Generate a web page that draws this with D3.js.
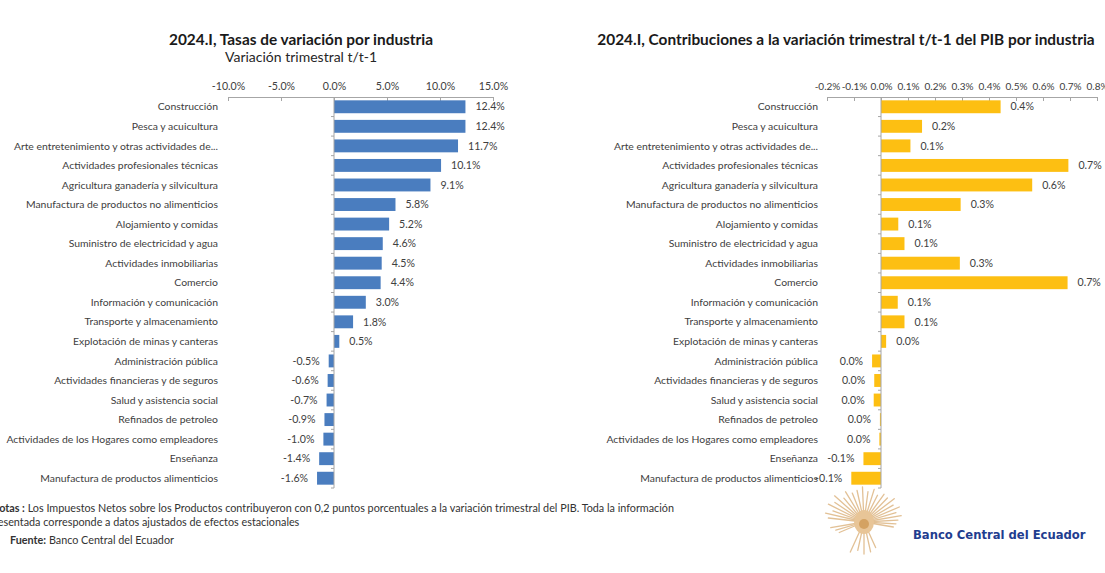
<!DOCTYPE html>
<html>
<head>
<meta charset="utf-8">
<script src="https://cdn.jsdelivr.net/npm/d3@7"></script>
<style>
  html, body { margin: 0; padding: 0; background: #ffffff; }
  svg { display: block; }
  text { font-family: Lato, "Open Sans", sans-serif; }
</style>
</head>
<body>
<svg id="chart" width="1105" height="573"></svg>
<script>
// Industries, in display order (top to bottom)
const industrias = [
  "Construcción",
  "Pesca y acuicultura",
  "Arte entretenimiento y otras actividades de...",
  "Actividades profesionales técnicas",
  "Agricultura  ganadería y silvicultura",
  "Manufactura de productos no alimenticios",
  "Alojamiento y comidas",
  "Suministro de electricidad y agua",
  "Actividades inmobiliarias",
  "Comercio",
  "Información y comunicación",
  "Transporte y almacenamiento",
  "Explotación de minas y canteras",
  "Administración pública",
  "Actividades financieras y de seguros",
  "Salud y asistencia social",
  "Refinados de petroleo",
  "Actividades de los Hogares como empleadores",
  "Enseñanza",
  "Manufactura de productos alimenticios"
];

// Quarterly growth rate t/t-1, percent
const tasas = [12.4, 12.4, 11.7, 10.1, 9.1, 5.8, 5.2, 4.6, 4.5, 4.4, 3.0, 1.8, 0.5,
               -0.5, -0.6, -0.7, -0.9, -1.0, -1.4, -1.6];

// Contribution to quarterly GDP growth t/t-1, percentage points
const contribuciones = [0.443, 0.152, 0.109, 0.694, 0.560, 0.295, 0.064, 0.087, 0.292, 0.691,
                        0.062, 0.087, 0.019, -0.033, -0.025, -0.027, -0.004, -0.006, -0.065, -0.110];

// Axis ticks
const ticksTasas = [-10, -5, 0, 5, 10, 15];
const ticksContrib = [-0.2, -0.1, 0.0, 0.1, 0.2, 0.3, 0.4, 0.5, 0.6, 0.7, 0.8];

const svg = d3.select("#chart");
// Plain hyphen for negatives, one decimal
const locale = d3.formatLocale({ decimal: ".", thousands: ",", grouping: [3], currency: ["", ""], minus: "-" });
const fmt = locale.format(".1f");
const pct = d => fmt(d) + "%";
const textColor = "#404040";
const axisColor = "#a6a6a6";
const plotTop = 97, plotBottom = 488;

function drawPanel(opts) {
  const g = svg.append("g");
  const x = d3.scaleLinear().domain(opts.domain).range(opts.xRange);
  const y = d3.scaleBand().domain(industrias).range([plotTop, plotBottom]).paddingInner(0.34).paddingOuter(0.17);

  // Top value axis
  const axis = d3.axisTop(x)
    .tickValues(opts.ticks)
    .tickSizeInner(-4)
    .tickSizeOuter(0)
    .tickPadding(7)
    .tickFormat(pct);
  const ax = g.append("g").attr("transform", `translate(0,${plotTop})`).call(axis);
  ax.select(".domain").attr("stroke", axisColor);
  ax.selectAll(".tick line").attr("stroke", axisColor);
  ax.selectAll(".tick text")
    .attr("fill", textColor)
    .style("font-family", "Lato, sans-serif")
    .style("font-size", opts.tickFont + "px");

  // Bars
  g.selectAll("rect.bar")
    .data(opts.values)
    .join("rect")
    .attr("class", "bar")
    .attr("x", d => x(Math.min(0, d)))
    .attr("y", (d, i) => y(industrias[i]))
    .attr("width", d => Math.abs(x(d) - x(0)))
    .attr("height", y.bandwidth())
    .attr("fill", opts.color);

  // Category axis at zero with small ticks between categories
  const x0 = x(0);
  g.append("line")
    .attr("x1", x0).attr("x2", x0)
    .attr("y1", plotTop).attr("y2", plotBottom)
    .attr("stroke", axisColor);
  const bounds = d3.range(1, industrias.length + 1)
    .map(i => plotTop + i * (plotBottom - plotTop) / industrias.length);
  g.selectAll("line.ctick")
    .data(bounds)
    .join("line")
    .attr("class", "ctick")
    .attr("x1", x0 - 3).attr("x2", x0)
    .attr("y1", d => d).attr("y2", d => d)
    .attr("stroke", axisColor);

  // Category labels
  g.selectAll("text.cat")
    .data(industrias)
    .join("text")
    .attr("class", "cat")
    .attr("x", opts.labelX)
    .attr("y", d => y(d) + y.bandwidth() / 2)
    .attr("dy", "0.35em")
    .attr("text-anchor", "end")
    .attr("fill", textColor)
    .style("font-size", "10.4px")
    .text(d => d);

  // Value labels
  g.selectAll("text.val")
    .data(opts.values)
    .join("text")
    .attr("class", "val")
    .attr("x", d => d >= 0 ? x(d) + 10 : x(d) - 9)
    .attr("y", (d, i) => y(industrias[i]) + y.bandwidth() / 2)
    .attr("dy", "0.35em")
    .attr("text-anchor", d => d >= 0 ? "start" : "end")
    .attr("fill", textColor)
    .style("font-size", "10.6px")
    .text(pct);

  // Titles
  g.append("text")
    .attr("x", opts.titleX).attr("y", 45)
    .attr("text-anchor", "middle")
    .attr("fill", "#1a1a1a")
    .style("font-size", "15.4px")
    .style("font-weight", "bold")
    .text(opts.title);
  if (opts.subtitle) {
    g.append("text")
      .attr("x", opts.titleX).attr("y", 62)
      .attr("text-anchor", "middle")
      .attr("fill", "#262626")
      .style("font-size", "14px")
      .text(opts.subtitle);
  }
}

drawPanel({
  values: tasas,
  domain: [-10, 15],
  xRange: [228, 493],
  ticks: ticksTasas,
  tickFont: 10.6,
  color: "#4a7dbf",
  labelX: 218,
  titleX: 301,
  title: "2024.I, Tasas de variación por industria",
  subtitle: "Variación trimestral t/t-1"
});

drawPanel({
  values: contribuciones,
  domain: [-0.2, 0.8],
  xRange: [827, 1097],
  ticks: ticksContrib,
  tickFont: 10,
  color: "#fdbf12",
  labelX: 818,
  titleX: 846,
  title: "2024.I, Contribuciones a la variación trimestral t/t-1 del PIB por industria",
  subtitle: null
});

// Footnotes (the block begins slightly left of the page edge)
const notes = svg.append("g").attr("fill", "#333").style("font-size", "10.8px");
const n1 = notes.append("text").attr("x", -9).attr("y", 512);
n1.append("tspan").style("font-weight", "bold").text("Notas :");
n1.append("tspan").text(" Los Impuestos Netos sobre los Productos contribuyeron con 0,2 puntos porcentuales a la variación trimestral del PIB. Toda la información");
notes.append("text").attr("x", -12).attr("y", 526)
  .text("presentada corresponde a datos ajustados de efectos estacionales");
const n3 = notes.append("text").attr("x", 10).attr("y", 544);
n3.append("tspan").style("font-weight", "bold").text("Fuente:");
n3.append("tspan").text(" Banco Central del Ecuador");

// Bank emblem: golden rays fanning out from a small core
const logo = svg.append("g").attr("transform", "translate(864,522)");
const rayAngles = [-172, -164, -156, -148, -140, -132, -124, -116, -108, -100, -92, -84, -76, -68, -60, -52,
                   -44, -36, -28, -20, -12, -4, 4, 12, 168, 160, 152, 110, 100, 90, 80, 70];
const rayLengths = [36, 40, 34, 42, 38, 44, 36, 42, 38, 40, 44, 38, 42, 36, 40, 38,
                    42, 36, 40, 34, 38, 34, 32, 30, 34, 30, 28, 40, 36, 40, 38, 34];
logo.selectAll("line")
  .data(rayAngles)
  .join("line")
  .attr("x1", 0).attr("y1", 0)
  .attr("x2", (a, i) => rayLengths[i] * Math.cos(a * Math.PI / 180))
  .attr("y2", (a, i) => rayLengths[i] * Math.sin(a * Math.PI / 180) * 0.8)
  .attr("stroke", "#dcb27c")
  .attr("stroke-width", 1.3)
  .attr("stroke-linecap", "round")
  .attr("opacity", 0.8);
logo.append("ellipse").attr("cx", 0).attr("cy", 0).attr("rx", 10).attr("ry", 12).attr("fill", "#e8c597");
logo.append("ellipse").attr("cx", 0).attr("cy", 2).attr("rx", 5).attr("ry", 5).attr("fill", "#d4a262");

svg.append("text")
  .attr("x", 913).attr("y", 539)
  .attr("fill", "#1f3d8f")
  .style("font-family", "'DejaVu Sans', sans-serif")
  .style("font-size", "11.6px")
  .style("font-weight", "bold")
  .text("Banco Central del Ecuador");
</script>
</body>
</html>
